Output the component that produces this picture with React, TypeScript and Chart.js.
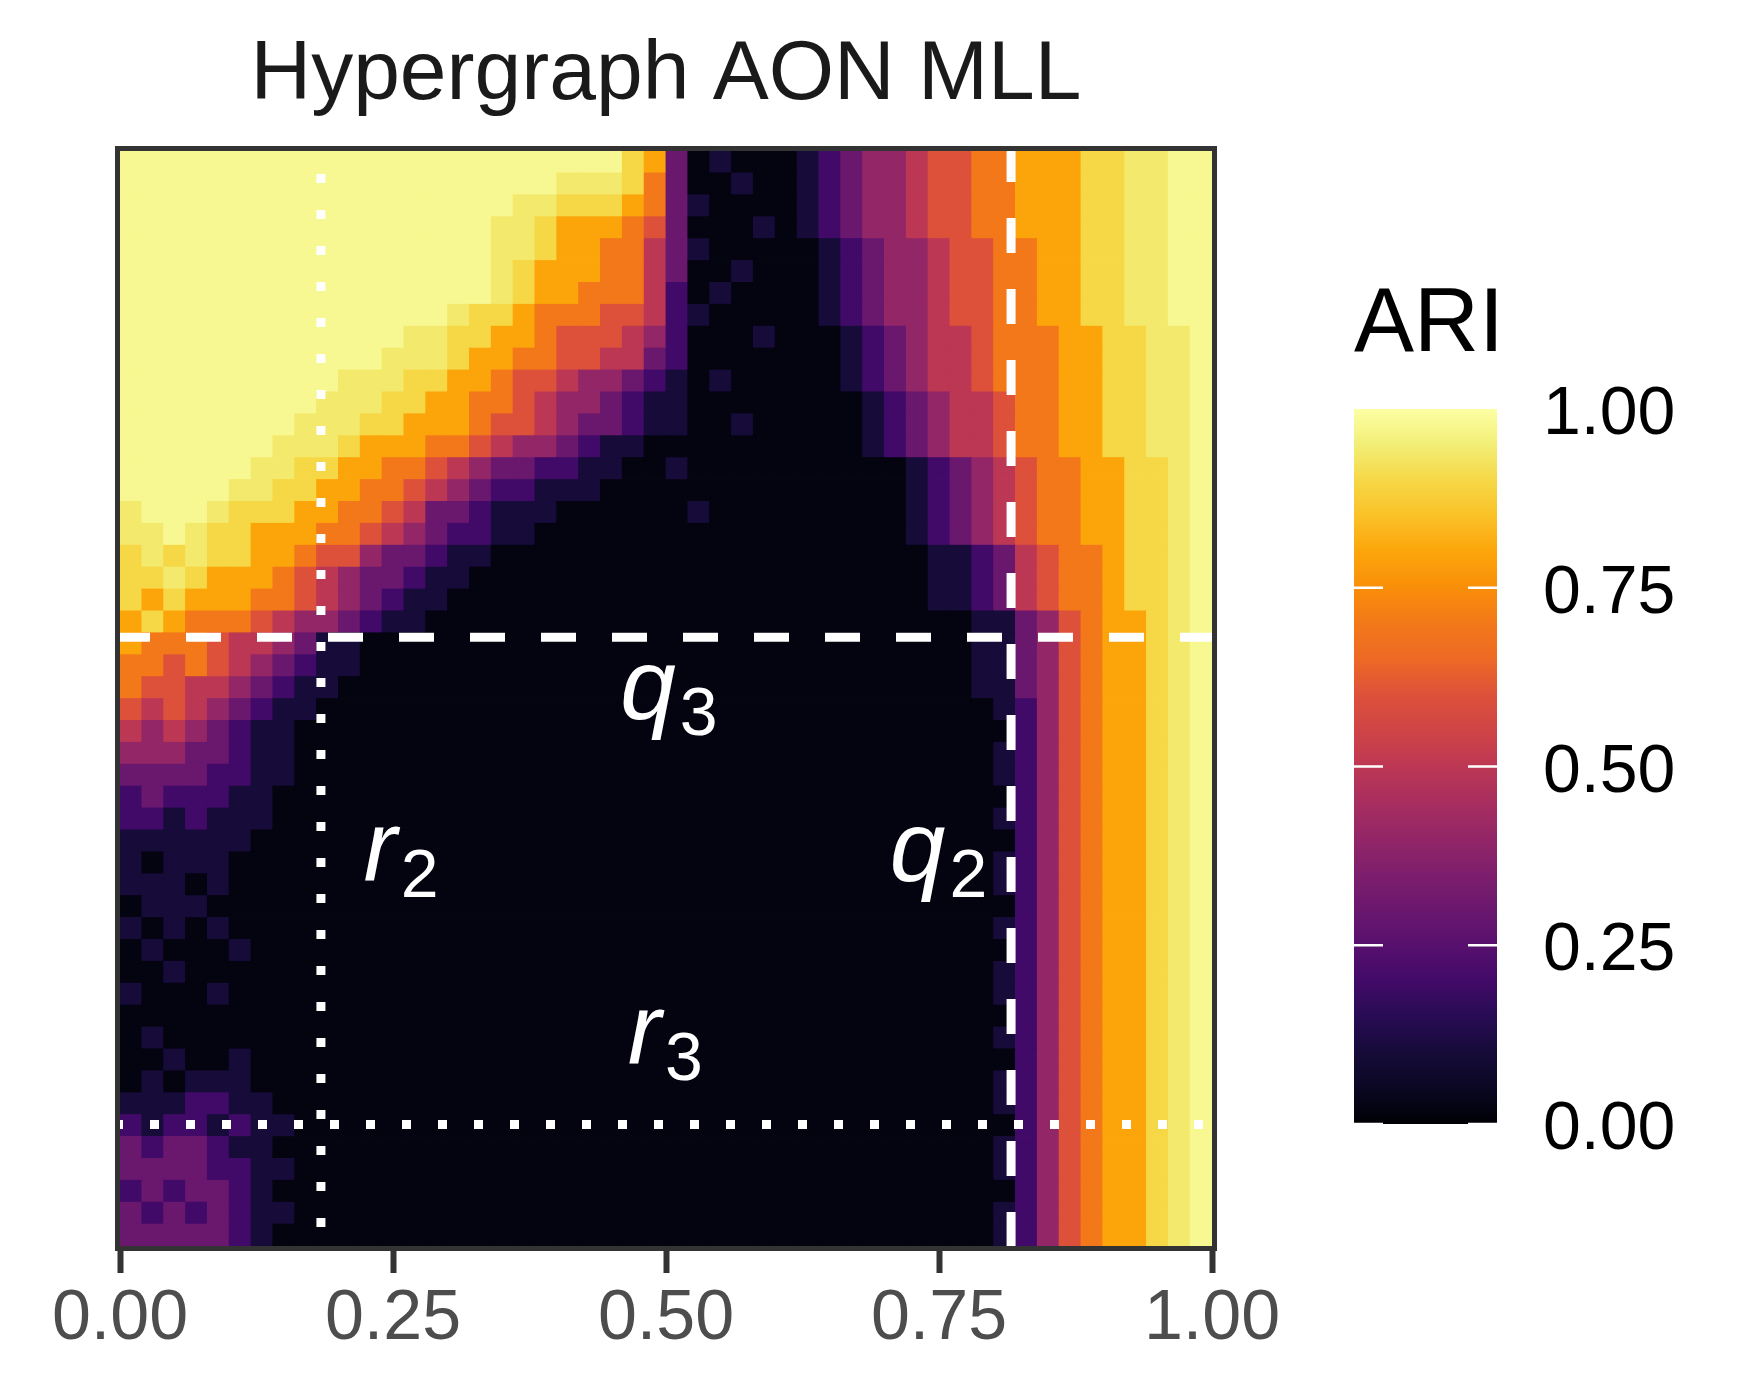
import { useEffect, useRef } from "react";
import { Chart, registerables } from "chart.js";

Chart.register(...registerables);

// ─── Data ─────────────────────────────────────────────────────────────────────
const xTickValues = [0, 0.25, 0.5, 0.75, 1];
const colorbarTicks = [0, 0.25, 0.5, 0.75, 1];
const cellSize = 0.02;

// one char per cell (ARI in tenths, Y = ~0.94, X = ~1)
const codeValue: Record<string, number> = {
  "0": 0.02, "1": 0.1, "2": 0.2, "3": 0.3, "4": 0.4, "5": 0.5,
  "6": 0.6, "7": 0.7, "8": 0.8, "9": 0.9, Y: 0.94, X: 0.98,
};

// rows from top (y = 0.99) to bottom (y = 0.01), 50 columns each
const ariRows = [
  "XXXXXXXXXX XXXXXXXXXX XXX9830100 0123445667 788899YYXX",
  "XXXXXXXXXX XXXXXXXXXX YYY9730010 0123445667 788899YYXX",
  "XXXXXXXXXX XXXXXXXXYY 9998731000 0123445667 788899YYXX",
  "XXXXXXXXXX XXXXXXXYY9 8887630001 0123445667 788899YYXX",
  "XXXXXXXXXX XXXXXXXYY9 8877531000 0012344566 778899YYXX",
  "XXXXXXXXXX XXXXXXXY98 8877530010 0012344566 778899YYXX",
  "XXXXXXXXXX XXXXXXXY98 8777520100 0012344566 778899YYXX",
  "XXXXXXXXXX XXXXXY9987 7766521000 0012344566 778899YYXX",
  "XXXXXXXXXX XXXYY99887 6665420001 0001234556 7778899YYX",
  "XXXXXXXXXX XXYYY98877 6655320000 0001234556 7778899YYX",
  "XXXXXXXXXX YYY9988766 5443210100 0001234556 7778899YYX",
  "XXXXXXXXXY YY99887765 4432110000 0000123455 6778899YYX",
  "XXXXXXXXYY Y998887665 4332110010 0000123455 6778899YYX",
  "XXXXXXXYYY 9888776544 3211000000 0000123455 6778899YYX",
  "XXXXXXYY99 8877654332 2110010000 0000001234 56778899YX",
  "XXXXXYY998 8776543221 1100000000 0000001234 56778899YX",
  "YXXXY99988 7765332111 0000001000 0000001234 56778899YX",
  "YYXY998887 7654322110 0000000000 0000001234 56778899YX",
  "9Y9Y998876 6433211000 0000000000 0000000112 35677899YX",
  "99Y9888765 4332110000 0000000000 0000000112 35677899YX",
  "9898887765 4321100000 0000000000 0000000112 35677899YX",
  "8987776544 3211000000 0000000000 0000000001 13467889YX",
  "8777655431 1000000000 0000000000 0000000001 13467889YX",
  "7767654321 1000000000 0000000000 0000000001 13467889YX",
  "7665543211 0000000000 0000000000 0000000001 13467889YX",
  "6565432110 0000000000 0000000000 0000000000 12467889YX",
  "5454321100 0000000000 0000000000 0000000000 02467889YX",
  "4443321100 0000000000 0000000000 0000000000 12467889YX",
  "3333221100 0000000000 0000000000 0000000000 12467889YX",
  "2322211000 0000000000 0000000000 0000000000 02467889YX",
  "2212111000 0000000000 0000000000 0000000000 12467889YX",
  "1111110000 0000000000 0000000000 0000000000 02467889YX",
  "1011100000 0000000000 0000000000 0000000000 12467889YX",
  "1110100000 0000000000 0000000000 0000000000 12467889YX",
  "0111000000 0000000000 0000000000 0000000000 02467889YX",
  "1010100000 0000000000 0000000000 0000000000 12467889YX",
  "0100010000 0000000000 0000000000 0000000000 02467889YX",
  "0010000000 0000000000 0000000000 0000000000 12467889YX",
  "1000100000 0000000000 0000000000 0000000000 12467889YX",
  "0000000000 0000000000 0000000000 0000000000 02467889YX",
  "0100000000 0000000000 0000000000 0000000000 12467889YX",
  "0010010000 0000000000 0000000000 0000000000 02467889YX",
  "0101110000 0000000000 0000000000 0000000000 12467889YX",
  "1112211000 0000000000 0000000000 0000000000 12467889YX",
  "2122121100 0000000000 0000000000 0000000000 02467889YX",
  "3233211000 0000000000 0000000000 0000000000 12467889YX",
  "3333221100 0000000000 0000000000 0000000000 12467889YX",
  "2323321000 0000000000 0000000000 0000000000 02467889YX",
  "3232321100 0000000000 0000000000 0000000000 12467889YX",
  "3333321000 0000000000 0000000000 0000000000 12467889YX",
];

const verticalCuts = [
  { x: 0.184, style: "dotted" },
  { x: 0.816, style: "dashed" },
];
const horizontalCuts = [
  { y: 0.556, style: "dashed" },
  { y: 0.111, style: "dotted" },
];
const regionLabels = [
  { base: "q", sub: "3", x: 0.458, y: 0.481 },
  { base: "r", sub: "2", x: 0.223, y: 0.333 },
  { base: "q", sub: "2", x: 0.705, y: 0.333 },
  { base: "r", sub: "3", x: 0.465, y: 0.166 },
];

// ─── Colour scale (inferno) ──────────────────────────────────────────────────
const INFERNO = [
  [0, 0, 4], [10, 7, 34], [22, 11, 57], [40, 11, 84], [66, 10, 104],
  [87, 16, 110], [106, 23, 110], [126, 30, 108], [147, 38, 103], [168, 46, 95],
  [188, 55, 84], [207, 68, 70], [221, 81, 58], [237, 105, 37], [243, 120, 25],
  [249, 142, 9], [252, 165, 10], [250, 193, 39], [246, 215, 70], [242, 238, 118],
  [252, 255, 164],
];

function inferno(t: number) {
  const v = Math.max(0, Math.min(1, t)) * (INFERNO.length - 1);
  const i = Math.min(Math.floor(v), INFERNO.length - 2);
  const f = v - i;
  const a = INFERNO[i], b = INFERNO[i + 1];
  const c = a.map((ch, k) => Math.round(ch + (b[k] - ch) * f));
  return `rgb(${c[0]},${c[1]},${c[2]})`;
}

const cells = ariRows.flatMap((row, r) =>
  row.replace(/ /g, "").split("").map((ch, c) => ({
    x: (c + 0.5) * cellSize,
    y: 1 - (r + 0.5) * cellSize,
    v: codeValue[ch] ?? 0,
  }))
);

const FONT = '"Liberation Sans", Arial, Helvetica, sans-serif';

// ─── Plugin: cut lines, labels, frame, title, colour bar ────────────────────
const decorPlugin = {
  id: "decor",
  afterDatasetsDraw(chart: any) {
    const { ctx, chartArea: a, scales } = chart;
    const xs = scales.x, ys = scales.y;

    ctx.save();
    ctx.beginPath();
    ctx.rect(a.left, a.top, a.right - a.left, a.bottom - a.top);
    ctx.clip();
    ctx.strokeStyle = "#FFFFFF";
    ctx.lineCap = "butt";
    ctx.lineWidth = 9;
    verticalCuts.forEach((l) => {
      const px = xs.getPixelForValue(l.x);
      const dashed = l.style === "dashed";
      ctx.setLineDash(dashed ? [35, 36] : [9, 27]);
      ctx.beginPath();
      ctx.moveTo(px, dashed ? a.top - 4 : a.top - 13);
      ctx.lineTo(px, a.bottom + 2);
      ctx.stroke();
    });
    horizontalCuts.forEach((l) => {
      const py = ys.getPixelForValue(l.y);
      const dashed = l.style === "dashed";
      ctx.setLineDash(dashed ? [35, 36] : [9, 27]);
      ctx.beginPath();
      ctx.moveTo(dashed ? a.left - 5 : a.left - 6, py);
      ctx.lineTo(a.right + 2, py);
      ctx.stroke();
    });
    ctx.setLineDash([]);

    ctx.fillStyle = "#FFFFFF";
    ctx.textAlign = "left";
    ctx.textBaseline = "alphabetic";
    regionLabels.forEach((l) => {
      const px = xs.getPixelForValue(l.x);
      const py = ys.getPixelForValue(l.y);
      ctx.font = `italic 100px ${FONT}`;
      ctx.fillText(l.base, px, py);
      const w = ctx.measureText(l.base).width;
      ctx.font = `68px ${FONT}`;
      ctx.fillText(l.sub, px + w + 4, py + 16);
    });
    ctx.restore();

    // panel frame
    ctx.save();
    ctx.strokeStyle = "#333333";
    ctx.lineWidth = 5;
    ctx.strokeRect(a.left - 2.5, a.top - 2.5, a.right - a.left + 5, a.bottom - a.top + 5);
    ctx.restore();
  },
  afterDraw(chart: any) {
    const { ctx, chartArea: a } = chart;
    ctx.save();

    // title
    ctx.fillStyle = "#1A1A1A";
    ctx.font = `84px ${FONT}`;
    ctx.textAlign = "center";
    ctx.textBaseline = "alphabetic";
    ctx.fillText("Hypergraph AON MLL", (a.left + a.right) / 2, 99);

    // colour bar
    const cbLeft = 1354, cbRight = 1497, cbTop = 409, cbBottom = 1124;
    const grad = ctx.createLinearGradient(0, cbBottom, 0, cbTop);
    for (let i = 0; i <= 40; i++) grad.addColorStop(i / 40, inferno(i / 40));
    ctx.fillStyle = grad;
    ctx.fillRect(cbLeft, cbTop, cbRight - cbLeft, cbBottom - cbTop);

    ctx.strokeStyle = "#FFFFFF";
    ctx.lineWidth = 2.5;
    ctx.fillStyle = "#000000";
    ctx.font = `68px ${FONT}`;
    ctx.textAlign = "left";
    colorbarTicks.forEach((v) => {
      const py = cbBottom - v * (cbBottom - cbTop);
      if (v < 1) {
        ctx.beginPath();
        ctx.moveTo(cbLeft, py); ctx.lineTo(cbLeft + 29, py);
        ctx.moveTo(cbRight - 29, py); ctx.lineTo(cbRight, py);
        ctx.stroke();
      }
      ctx.fillText(v.toFixed(2), 1543, py + 25);
    });

    ctx.font = `90px ${FONT}`;
    ctx.fillText("ARI", 1354, 351);
    ctx.restore();
  },
};

// ─── Component ────────────────────────────────────────────────────────────────
export default function App() {
  const canvasRef = useRef<HTMLCanvasElement | null>(null);

  useEffect(() => {
    if (!canvasRef.current) return;
    const chart = new Chart(canvasRef.current, {
      type: "scatter",
      data: {
        datasets: [
          {
            data: cells,
            pointStyle: "rect",
            backgroundColor: cells.map((d) => inferno(d.v)),
            borderWidth: 0,
            pointBorderWidth: 0,
            pointRadius: (ctx: any) => {
              const s = ctx.chart.scales.x;
              return Math.abs(s.getPixelForValue(cellSize) - s.getPixelForValue(0)) / Math.SQRT2 + 0.6;
            },
          } as any,
        ],
      },
      options: {
        animation: false,
        responsive: true,
        maintainAspectRatio: false,
        events: [],
        layout: { padding: { left: 120, right: 533, top: 151, bottom: 0 } },
        plugins: { legend: { display: false }, tooltip: { enabled: false } },
        scales: {
          x: {
            type: "linear",
            min: 0,
            max: 1,
            afterBuildTicks: (s: any) => { s.ticks = xTickValues.map((v) => ({ value: v })); },
            afterFit: (s: any) => { s.height = 131; },
            ticks: {
              autoSkip: false,
              maxRotation: 0,
              padding: 5,
              color: "#4D4D4D",
              font: { family: FONT, size: 70 },
              callback: (v: any) => Number(v).toFixed(2),
            },
            grid: { drawOnChartArea: false, drawTicks: true, tickLength: 27, tickWidth: 6, tickColor: "#333333" },
            border: { display: false },
          },
          y: { type: "linear", min: 0, max: 1, display: false },
        },
      } as any,
      plugins: [decorPlugin],
    });
    return () => chart.destroy();
  }, []);

  return (
    <>
      <style>{`html, body { margin: 0; padding: 0; background: #FFFFFF; }`}</style>
      <div style={{ position: "relative", width: 1745, height: 1377 }}>
        <canvas ref={canvasRef} />
      </div>
    </>
  );
}
